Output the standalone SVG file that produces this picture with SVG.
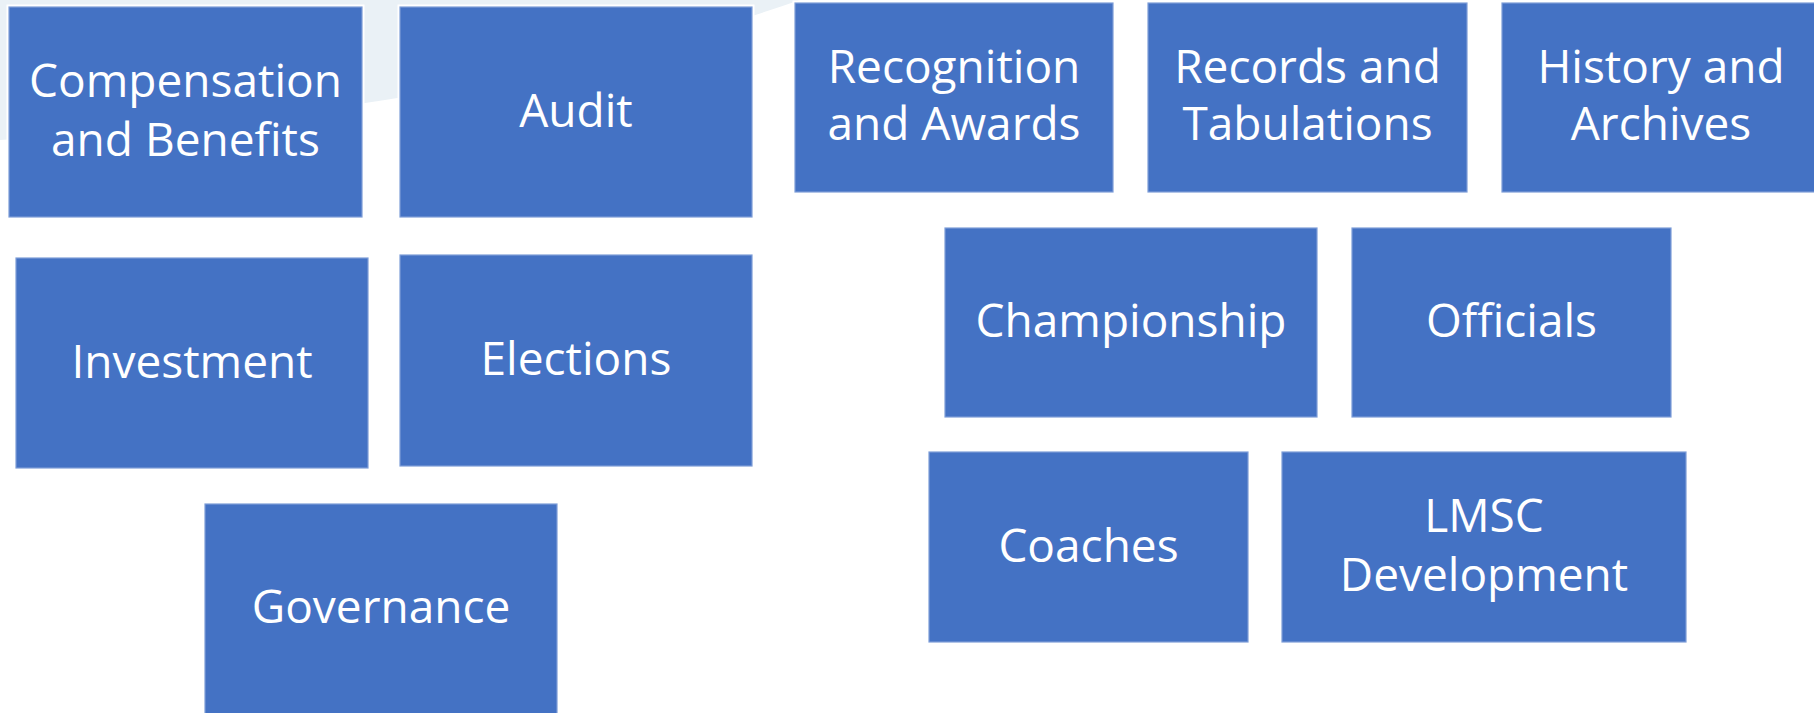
<svg xmlns="http://www.w3.org/2000/svg" width="1814" height="713" viewBox="0 0 1814 713">
<style>
.box{fill:#4472C4;stroke:#7d9dd8;stroke-width:1.2}
.halo{fill:none;stroke:#ffffff;stroke-width:5}
.lbl{fill:#ffffff;font-family:"Open Sans","Noto Sans",sans-serif;font-size:46px;text-anchor:middle}
</style>
<rect x="0" y="0" width="1814" height="713" fill="#ffffff"/>
<path d="M0,0 L0,140 Q480,112 800,0 Z" fill="#eaf1f6"/>
<g id="compensation"><rect class="halo" x="9" y="7" width="353" height="210"/><rect class="box" x="9" y="7" width="353" height="210"/><text class="lbl" x="185.5" y="97">Compensation</text><text class="lbl" x="185.5" y="156">and Benefits</text></g>
<g id="audit"><rect class="halo" x="400" y="7" width="352" height="210"/><rect class="box" x="400" y="7" width="352" height="210"/><text class="lbl" x="576" y="127">Audit</text></g>
<g id="investment"><rect class="halo" x="16" y="258" width="352" height="210"/><rect class="box" x="16" y="258" width="352" height="210"/><text class="lbl" x="192" y="378">Investment</text></g>
<g id="elections"><rect class="halo" x="400" y="255" width="352" height="211"/><rect class="box" x="400" y="255" width="352" height="211"/><text class="lbl" x="576" y="375">Elections</text></g>
<g id="governance"><rect class="halo" x="205" y="504" width="352" height="215"/><rect class="box" x="205" y="504" width="352" height="215"/><text class="lbl" x="381" y="623">Governance</text></g>
<g id="recognition"><rect class="halo" x="795" y="3" width="318" height="189"/><rect class="box" x="795" y="3" width="318" height="189"/><text class="lbl" x="954" y="83">Recognition</text><text class="lbl" x="954" y="140">and Awards</text></g>
<g id="records"><rect class="halo" x="1148" y="3" width="319" height="189"/><rect class="box" x="1148" y="3" width="319" height="189"/><text class="lbl" x="1307.5" y="83">Records and</text><text class="lbl" x="1307.5" y="140">Tabulations</text></g>
<g id="history"><rect class="halo" x="1502" y="3" width="320" height="189"/><rect class="box" x="1502" y="3" width="320" height="189"/><text class="lbl" x="1661" y="83">History and</text><text class="lbl" x="1661" y="140">Archives</text></g>
<g id="championship"><rect class="halo" x="945" y="228" width="372" height="189"/><rect class="box" x="945" y="228" width="372" height="189"/><text class="lbl" x="1131" y="337">Championship</text></g>
<g id="officials"><rect class="halo" x="1352" y="228" width="319" height="189"/><rect class="box" x="1352" y="228" width="319" height="189"/><text class="lbl" x="1511.5" y="337">Officials</text></g>
<g id="coaches"><rect class="halo" x="929" y="452" width="319" height="190"/><rect class="box" x="929" y="452" width="319" height="190"/><text class="lbl" x="1088.5" y="562">Coaches</text></g>
<g id="lmsc"><rect class="halo" x="1282" y="452" width="404" height="190"/><rect class="box" x="1282" y="452" width="404" height="190"/><text class="lbl" x="1484" y="532">LMSC</text><text class="lbl" x="1484" y="591">Development</text></g>
<g id="connectors"></g>
</svg>
